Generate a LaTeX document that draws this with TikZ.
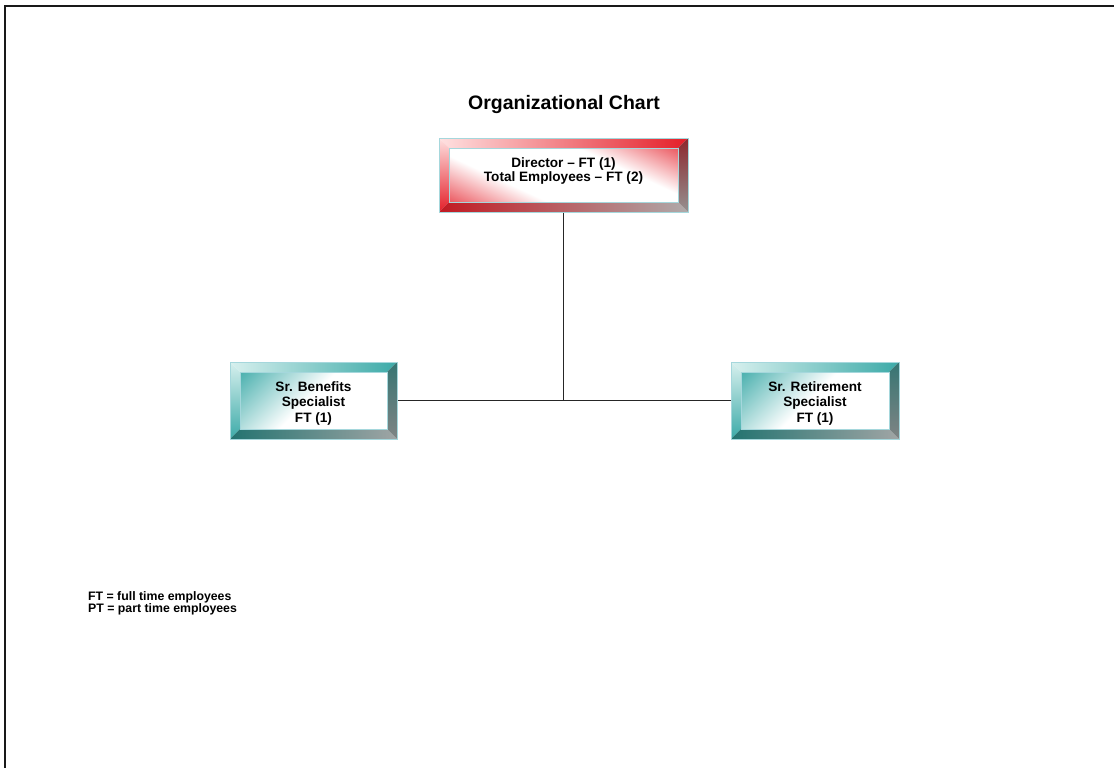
\documentclass[tikz,border=0pt]{standalone}
\usepackage{fontspec}
\setmainfont{Liberation Sans}
\usetikzlibrary{calc}
\definecolor{rRed}{RGB}{228,30,40}
\definecolor{rPink}{RGB}{255,225,225}
\definecolor{rDark}{RGB}{140,40,45}
\definecolor{rGray}{RGB}{175,170,170}
\definecolor{tTeal}{RGB}{60,170,168}
\definecolor{tLight}{RGB}{215,240,238}
\definecolor{tDark}{RGB}{35,115,112}
\definecolor{tGray}{RGB}{160,165,165}
\definecolor{edgeC}{RGB}{165,215,220}
\pgfdeclarehorizontalshading{redband}{100bp}{color(0bp)=(rRed); color(10bp)=(rRed); color(36bp)=(white); color(64bp)=(white); color(90bp)=(rRed); color(100bp)=(rRed)}
\pgfdeclarehorizontalshading{tealband}{100bp}{color(0bp)=(tTeal); color(12bp)=(tTeal); color(48bp)=(white); color(100bp)=(white)}
\tikzset{
  redface/.style={shading=redband, shading angle=65},
  redtop/.style={left color=rPink, right color=rRed},
  redleft/.style={top color=rPink, bottom color=rRed},
  redbot/.style={left color=rRed!85!black, right color=rGray},
  redright/.style={top color=rDark, bottom color=rGray!85!black},
  tealface/.style={shading=tealband, shading angle=-45},
  tealtop/.style={left color=tLight, right color=tTeal},
  tealleft/.style={top color=tLight, bottom color=tTeal},
  tealbot/.style={left color=tDark, right color=tGray},
  tealright/.style={top color=tDark!80!gray, bottom color=tGray!80!black},
  innerEdge/.style={draw=edgeC, line width=0.7pt},
  boxnode/.style={draw=edgeC, line width=1pt, inner sep=0pt},
  boxtext/.style={align=center, font=\fontsize{13.6}{15.5}\selectfont\bfseries, inner sep=0pt},
  conn/.style={draw=black!85, line width=1.2pt},
}
\newcommand{\bevelbox}[6]{%
  \shade[#5face] ({#1+#6},{#2+#6}) rectangle ({#3-#6},{#4-#6});
  \shade[#5top] (#1,#2) -- (#3,#2) -- ({#3-#6},{#2+#6}) -- ({#1+#6},{#2+#6}) -- cycle;
  \shade[#5left] (#1,#2) -- ({#1+#6},{#2+#6}) -- ({#1+#6},{#4-#6}) -- (#1,#4) -- cycle;
  \shade[#5bot] (#1,#4) -- ({#1+#6},{#4-#6}) -- ({#3-#6},{#4-#6}) -- (#3,#4) -- cycle;
  \shade[#5right] (#3,#2) -- (#3,#4) -- ({#3-#6},{#4-#6}) -- ({#3-#6},{#2+#6}) -- cycle;
  \draw[innerEdge] ({#1+#6},{#2+#6}) rectangle ({#3-#6},{#4-#6});
}
\begin{document}
\begin{tikzpicture}[x=1pt,y=-1pt]
\useasboundingbox (0,0) rectangle (1114,768);
\fill[white] (0,0) rectangle (1114,768);
% page frame
\draw[line width=2pt, black!90] (5,769) -- (5,6) -- (1115,6);
% title
\node[font=\fontsize{19.5}{22}\selectfont\bfseries] (title) at (564,105) {Organizational Chart};
% boxes
\bevelbox{439}{138}{688}{212}{red}{10}
\bevelbox{230}{362}{397}{439}{teal}{10}
\bevelbox{731}{362}{899}{439}{teal}{10}
\node[boxnode, minimum width=249pt, minimum height=74pt] (dir) at (563.5,175) {};
\node[boxnode, minimum width=167pt, minimum height=77pt] (ben) at (313.5,400.5) {};
\node[boxnode, minimum width=168pt, minimum height=77pt] (ret) at (815,400.5) {};
\node[boxtext, font=\fontsize{13.6}{14}\selectfont\bfseries] (dirtext) at ([yshift=4.5pt]dir.center) {Director – FT (1)\\Total Employees – FT (2)};
\node[boxtext] (bentext) at ([yshift=-2.5pt]ben.center) {Sr. Benefits\\Specialist\\FT (1)};
\node[boxtext] (rettext) at ([yshift=-2.5pt]ret.center) {Sr. Retirement\\Specialist\\FT (1)};
% connectors
\coordinate (junc) at (dir.south |- ben.east);
\draw[conn] (dir.south) -- (junc);
\draw[conn] (ben.east) -- (ret.west);
% legend
\node[anchor=north west, align=left, inner sep=0pt, font=\fontsize{12.3}{12}\selectfont\bfseries] (legend) at (88,591) {FT = full time employees\\PT = part time employees};
\end{tikzpicture}
\end{document}
